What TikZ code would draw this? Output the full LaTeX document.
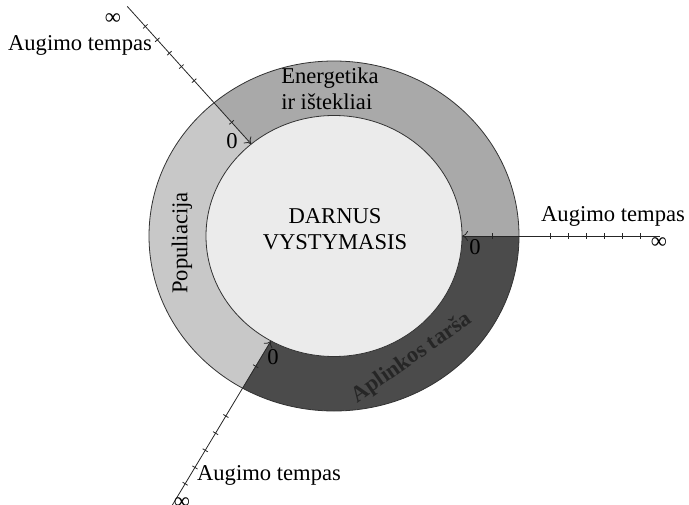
\documentclass[tikz,border=0pt]{standalone}
\usepackage{fontspec}
\setmainfont{Liberation Serif}
\usetikzlibrary{shapes.geometric,arrows.meta,calc}
\definecolor{ringmid}{HTML}{A9A9A9}
\definecolor{ringlight}{HTML}{C8C8C8}
\definecolor{ringdark}{HTML}{4B4B4B}
\definecolor{corefill}{HTML}{EBEBEB}
\definecolor{inkdark}{HTML}{262626}

\begin{document}
\begin{tikzpicture}[x=0.5pt, y=0.5pt, line width=0.4pt,
		lbl/.style={font=\fontsize{11.3}{13}\selectfont, inner sep=0},
		axis/.style={draw=black!85, -{To[length=3pt, width=5pt]}},
		notch/.style={draw=black!85}]
		\useasboundingbox (0,0) rectangle (689,504);
		\coordinate (c) at (334,268);
		
		% ring sectors
		\begin{scope}
			\clip (c) ellipse [x radius=185, y radius=175];
			\fill[ringmid] (c) -- ++(0:400) arc[start angle=0, end angle=132, radius=400] -- cycle;
			\fill[ringlight] (c) -- ++(132:400) arc[start angle=132, end angle=239, radius=400] -- cycle;
			\fill[ringdark] (c) -- ++(239:400) arc[start angle=239, end angle=360, radius=400] -- cycle;
		\end{scope}
		\draw[black!80] (c) ellipse [x radius=185, y radius=175];
		\node[draw=black!80, ellipse, fill=corefill, minimum width=128pt, minimum height=120.5pt, inner sep=0, outer sep=0] (core) at (c) {};
		\node[lbl, align=center] (goal) at (335,275) {DARNUS\\VYSTYMASIS};
		
		\node[lbl, align=left] (energy) at (330,415) {Energetika\\ir ištekliai};
		\node[lbl, rotate=90] (people) at (182,261) {Populiacija};
		\node[lbl, rotate=35, text=inkdark, font=\fontsize{11.3}{13}\selectfont\bfseries] (pollution) at (412,146) {Aplinkos tarša};
		
		% growth axes
		\coordinate (farA) at ([shift={(132:309)}]c);
		\coordinate (farB) at ([shift={(0:326)}]c);
		\coordinate (farC) at ([shift={(239:330)}]c);
		\draw[axis] (farA) -- (core.132);
		\draw[axis] (farB) -- (core.0);
		\draw[axis] (farC) -- (core.239);
		\foreach \a/\ds in {132/{153,209,228,246,264,282}, 0/{158,216,234,252,270,288,306}, 239/{152,210,230,250,270,289}}
			\foreach \d in \ds
				\draw[notch] ([shift={(\a:\d)}]c) ++(\a+90:3) -- ++(\a-90:6);
		
		\node[lbl] (zeroA) at (232,363) {0};
		\node[lbl] (rateA) at (80,459) {Augimo tempas};
		\node[lbl] (infA) at (113,485) {∞};
		\node[lbl] (zeroB) at (475,257) {0};
		\node[lbl] (rateB) at (613,288) {Augimo tempas};
		\node[lbl] (infB) at (659,261) {∞};
		\node[lbl] (zeroC) at (273,147) {0};
		\node[lbl] (rateC) at (269,29) {Augimo tempas};
		\node[lbl] (infC) at (182,1) {∞};
	\end{tikzpicture}
\end{document}
